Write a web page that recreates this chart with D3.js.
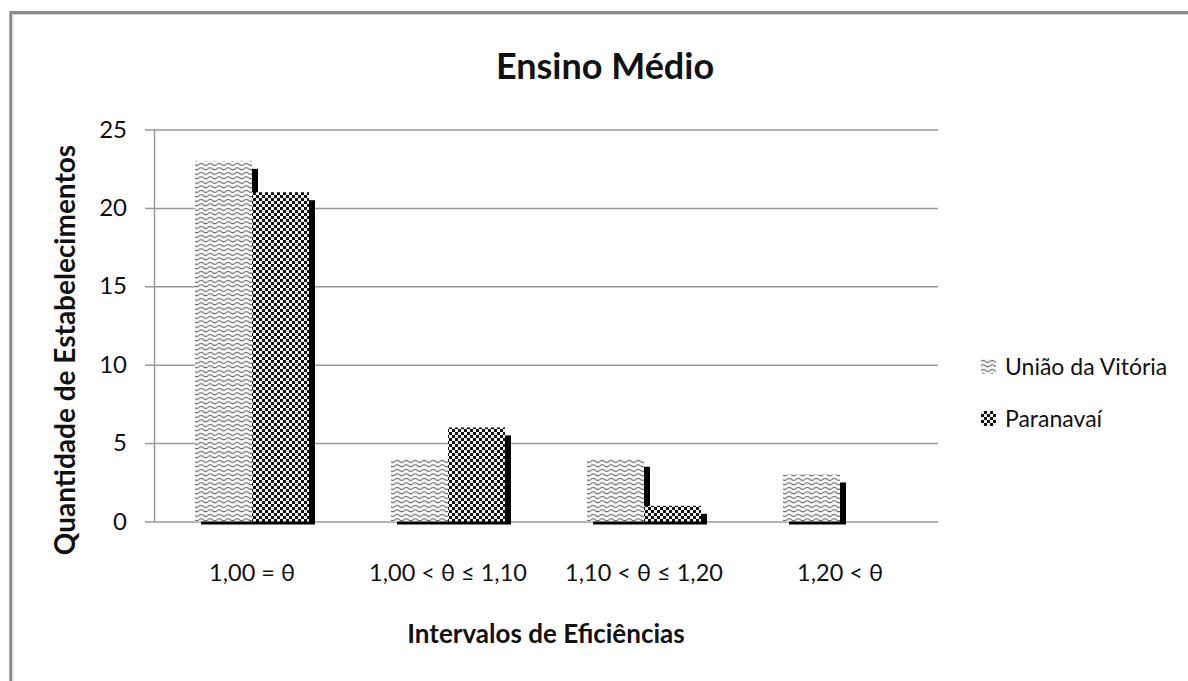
<!DOCTYPE html>
<html>
<head>
<meta charset="utf-8">
<script src="https://cdn.jsdelivr.net/npm/d3@7"></script>
<style>
  html, body { margin: 0; padding: 0; background: #fff; }
  svg { display: block; font-family: Lato, "Open Sans", sans-serif; }
</style>
</head>
<body>
<svg id="chart" width="1188" height="681"></svg>
<script>
// Number of schools per efficiency interval, by region
const categories = ["1,00 = θ", "1,00 < θ ≤ 1,10", "1,10 < θ ≤ 1,20", "1,20 < θ"];
const seriesNames = ["União da Vitória", "Paranavaí"];
const uniaoValues = [23, 4, 4, 3];
const paranavaiValues = [21, 6, 1, 0];
const yTicks = [0, 5, 10, 15, 20, 25];

const titleText = "Ensino Médio";
const yTitleText = "Quantidade de Estabelecimentos";
const xTitleText = "Intervalos de Eficiências";

const svg = d3.select("#chart");

// ---- fill patterns -------------------------------------------------------
const defs = svg.append("defs");

// grey wavy texture
const wave = defs.append("pattern")
  .attr("id", "pat-wave")
  .attr("patternUnits", "userSpaceOnUse")
  .attr("width", 9).attr("height", 4.5);
wave.append("rect").attr("width", 9).attr("height", 4.5).attr("fill", "#f7f7f7");
wave.append("path")
  .attr("d", "M0,2.3 Q2.25,0.4 4.5,2.3 T9,2.3")
  .attr("fill", "none").attr("stroke", "#555").attr("stroke-width", 1);

// black / white checker texture
const checker = defs.append("pattern")
  .attr("id", "pat-check")
  .attr("patternUnits", "userSpaceOnUse")
  .attr("width", 6).attr("height", 6);
checker.append("rect").attr("width", 6).attr("height", 6).attr("fill", "#111");
checker.append("rect").attr("x", 0).attr("y", 0).attr("width", 3).attr("height", 3).attr("fill", "#f2f2f2");
checker.append("rect").attr("x", 3).attr("y", 3).attr("width", 3).attr("height", 3).attr("fill", "#f2f2f2");

const fills = { "União da Vitória": "url(#pat-wave)", "Paranavaí": "url(#pat-check)" };

// ---- outer frame ---------------------------------------------------------
svg.append("rect")
  .attr("x", 10.8).attr("y", 12.5)
  .attr("width", 1400).attr("height", 1000)
  .attr("fill", "none").attr("stroke", "#8a8a8a").attr("stroke-width", 3);
svg.append("rect")
  .attr("x", 12.8).attr("y", 14.5)
  .attr("width", 1400).attr("height", 1000)
  .attr("fill", "none").attr("stroke", "#dadada").attr("stroke-width", 1);

// ---- scales --------------------------------------------------------------
const plotLeft = 154, plotRight = 938, plotTop = 129.5, plotBottom = 521.5;

const x0 = d3.scaleBand().domain(categories).range([plotLeft, plotRight]).padding(0);
const x1 = d3.scaleBand().domain(seriesNames).range([0, x0.bandwidth()])
  .paddingInner(0).paddingOuter(0.72);
const y = d3.scaleLinear().domain([0, 25]).range([plotBottom, plotTop]);

// ---- gridlines and y axis ------------------------------------------------
const grid = svg.append("g")
  .attr("transform", `translate(${plotLeft},0)`)
  .call(d3.axisLeft(y).tickValues(yTicks).tickSize(-(plotRight - plotLeft)).tickFormat(""));
grid.select(".domain").remove();
grid.selectAll(".tick line").attr("stroke", "#9a9a9a").attr("stroke-width", 1.5);

const yAxis = svg.append("g")
  .attr("transform", `translate(${plotLeft},0)`)
  .call(d3.axisLeft(y).tickValues(yTicks).tickSize(9).tickSizeOuter(0).tickPadding(18));
yAxis.select(".domain").attr("stroke", "#9a9a9a").attr("stroke-width", 1.5);
yAxis.selectAll(".tick line").attr("stroke", "#9a9a9a").attr("stroke-width", 1.5);
yAxis.selectAll(".tick text")
  .attr("font-family", "Lato, sans-serif")
  .attr("font-size", 24)
  .attr("fill", "#111");

// ---- bars ----------------------------------------------------------------
const rows = categories.map((c, i) => ({
  category: c,
  values: [
    { series: seriesNames[0], value: uniaoValues[i] },
    { series: seriesNames[1], value: paranavaiValues[i] }
  ]
}));

const groups = svg.append("g").selectAll("g")
  .data(rows).join("g")
  .attr("transform", d => `translate(${x0(d.category)},0)`);

groups.each(function (d) {
  const g = d3.select(this);
  d.values.filter(v => v.value > 0).forEach(v => {
    const bx = x1(v.series), bw = x1.bandwidth(), by = y(v.value);
    // drop shadow
    g.append("rect")
      .attr("x", bx + 6).attr("y", by + 8)
      .attr("width", bw).attr("height", y(0) + 3 - (by + 8))
      .attr("fill", "#000");
    // bar
    g.append("rect")
      .attr("x", bx).attr("y", by)
      .attr("width", bw).attr("height", y(0) - by)
      .attr("fill", fills[v.series]);
  });
});

// ---- category labels -----------------------------------------------------
const xAxis = svg.append("g")
  .attr("transform", `translate(0,${plotBottom})`)
  .call(d3.axisBottom(x0).tickSize(0).tickPadding(43));
xAxis.select(".domain").remove();
xAxis.selectAll(".tick text")
  .attr("font-family", "Lato, sans-serif")
  .attr("font-size", 23.5)
  .attr("fill", "#111");

// ---- titles --------------------------------------------------------------
svg.append("text")
  .attr("x", 605).attr("y", 79)
  .attr("text-anchor", "middle")
  .attr("font-size", 36).attr("font-weight", "bold").attr("fill", "#111")
  .text(titleText);

svg.append("text")
  .attr("transform", "translate(75,350) rotate(-90)")
  .attr("text-anchor", "middle")
  .attr("font-size", 28).attr("font-weight", "bold").attr("fill", "#111")
  .text(yTitleText);

svg.append("text")
  .attr("x", (plotLeft + plotRight) / 2).attr("y", 643)
  .attr("text-anchor", "middle")
  .attr("font-size", 26).attr("font-weight", "bold").attr("fill", "#111")
  .text(xTitleText);

// ---- legend --------------------------------------------------------------
const legend = svg.append("g").attr("transform", "translate(981,359)");
const items = legend.selectAll("g").data(seriesNames).join("g")
  .attr("transform", (d, i) => `translate(0,${i * 52})`);
items.append("rect")
  .attr("width", 15).attr("height", 15)
  .attr("fill", d => fills[d]);
items.append("text")
  .attr("x", 24).attr("y", 16)
  .attr("font-size", 23).attr("fill", "#111")
  .text(d => d);
</script>
</body>
</html>
